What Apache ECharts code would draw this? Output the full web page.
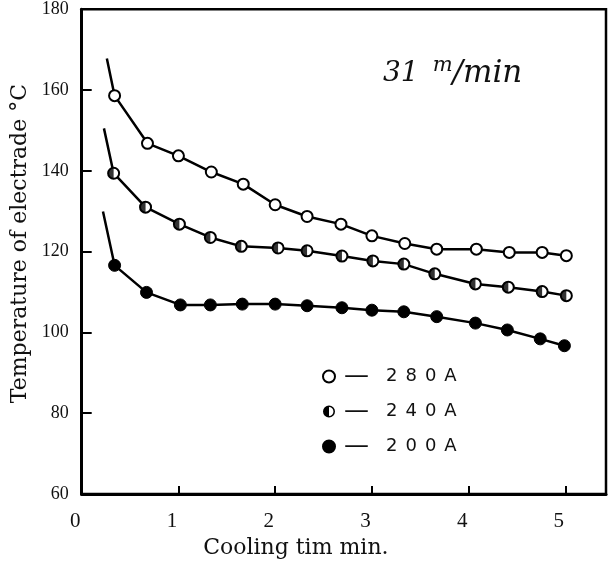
<!DOCTYPE html>
<html><head><meta charset="utf-8">
<script src="https://cdn.jsdelivr.net/npm/echarts@6/dist/echarts.min.js"></script>
<style>html,body{margin:0;padding:0;background:#fff}#c{width:609px;height:570px}</style>
</head><body><div id="c"></div>
<script>
// Data (first point of each series = lead-in line end, no marker)
const seriesNames = ['280A', '240A', '200A'];
const time280 = [0.26, 0.34, 0.68, 1.00, 1.34, 1.67, 2.00, 2.33, 2.68, 3.00, 3.34, 3.67, 4.08, 4.42, 4.76, 5.01];
const temp280 = [167.8, 158.6, 146.8, 143.7, 139.7, 136.7, 131.6, 128.7, 126.8, 123.9, 122.0, 120.6, 120.6, 119.8, 119.8, 119.0];
const time240 = [0.23, 0.33, 0.66, 1.01, 1.33, 1.65, 2.03, 2.33, 2.69, 3.01, 3.33, 3.65, 4.07, 4.41, 4.76, 5.01];
const temp240 = [150.5, 139.4, 131.0, 126.8, 123.5, 121.3, 120.9, 120.2, 118.9, 117.7, 116.9, 114.5, 112.0, 111.2, 110.1, 109.1];
const time200 = [0.22, 0.34, 0.67, 1.02, 1.33, 1.66, 2.00, 2.33, 2.69, 3.00, 3.33, 3.67, 4.07, 4.40, 4.74, 4.99];
const temp200 = [129.9, 116.6, 109.9, 106.8, 106.8, 107.0, 107.0, 106.6, 106.1, 105.5, 105.1, 103.9, 102.3, 100.6, 98.4, 96.7];
const xTicks = [0, 1, 2, 3, 4, 5];
const yTicks = [60, 80, 100, 120, 140, 160, 180];
const xName = 'Cooling tim min.';
const yName = 'Temperature of electrade °C';

function build(xs, ys) {
  return xs.map((x, i) => i === 0 ? { value: [x, ys[i]], symbol: 'none' } : [x, ys[i]]);
}
const halfDisk = 'path://M10,0A10,10 0 0,0 10,20Z';
const halfIcon = 'path://M10,0A10,10 0 1,1 10,20A10,10 0 1,1 10,0Z M10,2.6A7.4,7.4 0 1,0 10,17.4A7.4,7.4 0 1,0 10,2.6Z M10,2.6A7.4,7.4 0 0,0 10,17.4Z';

const lineStyle = { color: '#000', width: 2.5 };
const tFont = { fontFamily: 'DejaVu Serif', fontStyle: 'italic', fontWeight: 'normal', color: '#111' };
const chart = echarts.init(document.getElementById('c'));
chart.setOption({
  animation: false,
  backgroundColor: '#fff',
  title: {
    text: '{a|31}{b|m}{c|/min}',
    left: 378, top: 50,
    textStyle: {
      fontWeight: 'normal',
      rich: {
        a: Object.assign({ fontSize: 28, padding: [0, 14, 0, 0] }, tFont),
        b: Object.assign({ fontSize: 21, padding: [0, 0, 16, 0] }, tFont),
        c: Object.assign({ fontSize: 31 }, tFont)
      }
    }
  },
  grid: { left: 81.7, right: 3, top: 9.2, bottom: 76, show: true, borderColor: '#000', borderWidth: 2.5, containLabel: false },
  xAxis: {
    type: 'value', min: xTicks[0], max: 5.42, interval: 1,
    name: xName, nameLocation: 'middle', nameGap: 42,
    nameTextStyle: { fontFamily: 'DejaVu Serif', fontSize: 22, color: '#111', padding: [0, 96, 0, 0] },
    axisLine: { lineStyle: { color: '#000', width: 3 } },
    axisTick: { inside: true, length: 8, lineStyle: { color: '#000', width: 2 } },
    axisLabel: { showMaxLabel: false, fontFamily: 'Liberation Serif', fontSize: 21, color: '#111', margin: 17, padding: [0, 13, 0, 0] },
    splitLine: { show: false }
  },
  yAxis: {
    type: 'value', min: yTicks[0], max: yTicks[yTicks.length - 1], interval: 20,
    name: yName, nameLocation: 'middle', nameGap: 48,
    nameTextStyle: { fontFamily: 'DejaVu Serif', fontSize: 22, color: '#111', padding: [0, 0, 0, 16] },
    axisLine: { lineStyle: { color: '#000', width: 3 } },
    axisTick: { inside: true, length: 10, lineStyle: { color: '#000', width: 2 } },
    axisLabel: { fontFamily: 'Liberation Serif', fontSize: 18, color: '#111', margin: 13 },
    splitLine: { show: false }
  },
  legend: {
    orient: 'vertical', left: 317, top: 359,
    itemWidth: 12, itemHeight: 12, itemGap: 10,
    data: [
      { name: seriesNames[0], icon: 'circle' },
      { name: seriesNames[1], icon: halfIcon, itemStyle: { color: '#000', borderWidth: 0 } },
      { name: seriesNames[2], icon: 'circle' }
    ],
    formatter: n => '{d|—}' + n.split('').map(ch => '{t|' + ch + '}').join(''),
    textStyle: {
      rich: {
        d: { fontFamily: 'DejaVu Sans', fontSize: 25, color: '#111', padding: [0, 13, 0, 4], lineHeight: 24 },
        t: { fontFamily: 'DejaVu Sans', fontSize: 18, color: '#111', padding: [0, 4, 0, 4], lineHeight: 24 }
      }
    }
  },
  series: [
    { name: seriesNames[0], type: 'line', data: build(time280, temp280), symbol: 'circle', symbolSize: 11,
      itemStyle: { color: '#fff', borderColor: '#000', borderWidth: 2 }, lineStyle: lineStyle, z: 2 },
    { name: seriesNames[1], type: 'line', data: build(time240, temp240), symbol: 'circle', symbolSize: 11,
      itemStyle: { color: '#fff', borderColor: '#000', borderWidth: 2 }, lineStyle: lineStyle, z: 2 },
    { name: '240A-half', type: 'scatter', data: time240.slice(1).map((x, i) => [x, temp240[i + 1]]),
      symbol: halfDisk, symbolSize: [5.5, 11], symbolOffset: [-2.75, 0],
      itemStyle: { color: '#000' }, z: 3, silent: true },
    { name: seriesNames[2], type: 'line', data: build(time200, temp200), symbol: 'circle', symbolSize: 12,
      itemStyle: { color: '#000', borderColor: '#000', borderWidth: 1 }, lineStyle: lineStyle, z: 2 }
  ]
});
</script>
</body></html>
